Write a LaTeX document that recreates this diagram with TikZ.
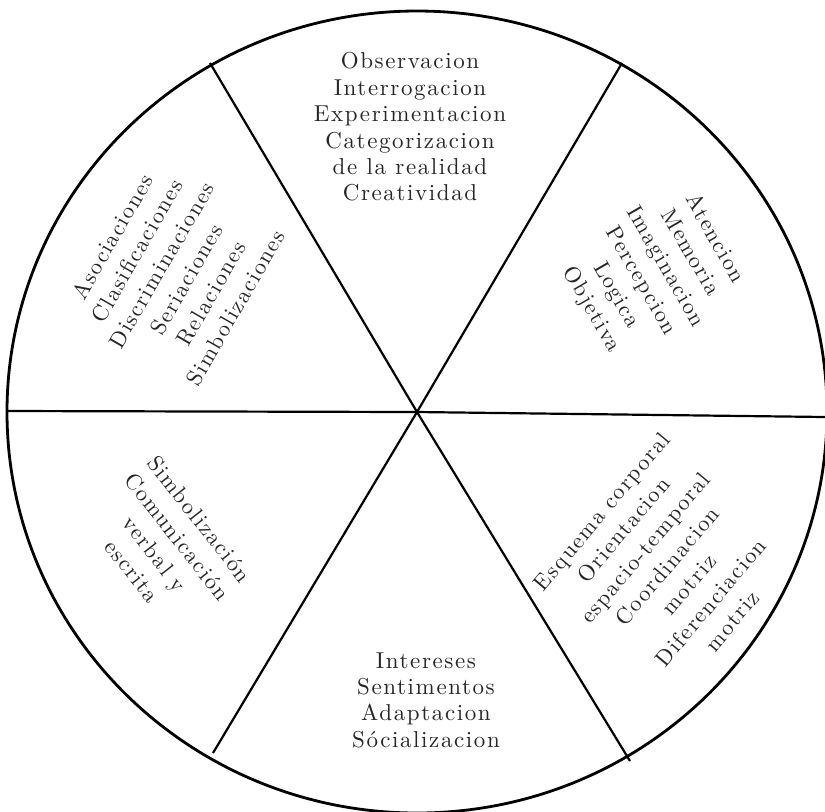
\documentclass[tikz,border=0pt]{standalone}
\usepackage{fontspec}
\newfontfamily\spacedrm{lmroman10-regular.otf}[LetterSpace=7]
\begin{document}
\begin{tikzpicture}[x=0.5pt,y=-0.5pt,
  rim/.style={line width=1.4pt},
  spoke/.style={line width=1.1pt},
  lbl/.style={align=center,inner sep=0pt,text=black!85,
    font=\spacedrm\fontsize{11.5}{13.2}\selectfont},
  rlbl/.style={lbl,font=\spacedrm\fontsize{11.2}{14.2}\selectfont}]
\useasboundingbox (0,0) rectangle (825,811);
\coordinate (c) at (417,412);
\coordinate (ul) at (210,63);
\coordinate (lr) at (630,761);
\coordinate (ur) at (622,63);
\coordinate (ll) at (213,753);
\coordinate (l) at (7,411);
\coordinate (r) at (825,417);
\draw[rim] (c) ellipse [x radius=410, y radius=401];
\draw[spoke] (ul) -- (c) -- (lr);
\draw[spoke] (ur) -- (c) -- (ll);
\draw[spoke] (l) -- (c) -- (r);
\node[lbl] (top) at (410,127) {Observacion\\Interrogacion\\Experimentacion\\Categorizacion\\de la realidad\\Creatividad};
\node[lbl] (bot) at (426,700) {Intereses\\Sentimentos\\Adaptacion\\S\'ocializacion};
\node[rlbl,rotate=60] (uleft) at (174,272) {Asociaciones\\Clasificaciones\\Discriminaciones\\Seriaciones\\Relaciones\\Simbolizaciones};
\node[rlbl,rotate=-52] (lleft) at (166,545) {Simbolizaci\'on\\Comunicaci\'on\\verbal y\\escrita};
\node[rlbl,rotate=-60] (uright) at (653,274) {Atencion\\Memoria\\Imaginacion\\Percepcion\\Logica\\Objetiva};
\node[rlbl,rotate=50] (lright) at (667,566) {Esquema corporal\\Orientacion\\espacio-temporal\\Coordinacion\\motriz\\Diferenciacion\\motriz};
\end{tikzpicture}
\end{document}
